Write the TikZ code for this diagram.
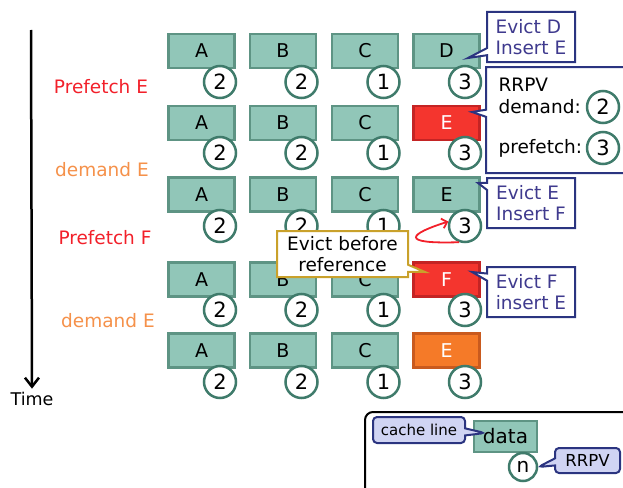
\documentclass[tikz,border=0pt]{standalone}
\usepackage{fontspec}
\setmainfont{DejaVu Sans}
\usetikzlibrary{shapes.callouts,arrows.meta}
\definecolor{tealfill}{HTML}{91C6B8}
\definecolor{tealline}{HTML}{5E9484}
\definecolor{circline}{HTML}{3F7B6B}
\definecolor{redfill}{HTML}{F4352E}
\definecolor{redline}{HTML}{C42424}
\definecolor{orgfill}{HTML}{F57A28}
\definecolor{orgline}{HTML}{C95A1E}
\definecolor{pfred}{HTML}{F2202A}
\definecolor{dmorg}{HTML}{F5914A}
\definecolor{calblue}{HTML}{2B3480}
\definecolor{caltext}{HTML}{3F3A8E}
\definecolor{gold}{HTML}{C9A12B}
\definecolor{lav}{HTML}{D0D4F3}
\begin{document}
\begin{tikzpicture}[x=1pt,y=-1pt,
  cline/.style={rectangle,draw=tealline,fill=tealfill,line width=2.5pt,minimum width=66pt,minimum height=34pt,inner sep=0pt,font=\fontsize{19}{19}\selectfont,text=black},
  redline/.style={cline,draw=redline,fill=redfill,text=white},
  orgline/.style={cline,draw=orgline,fill=orgfill,text=white},
  rr/.style={circle,draw=circline,fill=white,line width=2.5pt,minimum size=32pt,inner sep=0pt,font=\fontsize{21}{21}\selectfont},
  evlabel/.style={font=\fontsize{18.5}{18.5}\selectfont},
  blcall/.style={rectangle callout,draw=calblue,fill=white,line width=2pt,inner sep=0pt,minimum width=88pt,minimum height=50pt,align=left,text=caltext,font=\fontsize{18.5}{21}\selectfont},
  lavcall/.style={rectangle callout,draw=calblue,fill=lav,line width=2pt,rounded corners=4pt,inner sep=0pt,font=\fontsize{15}{15}\selectfont},
]
\useasboundingbox (0,0) rectangle (623,487);

% time axis
\coordinate (tstart) at (31,30);
\node[font=\fontsize{17.5}{17.5}\selectfont] (time) at (32,399) {Time};
\draw[line width=2.5pt,-{Straight Barb[length=9pt,width=14pt]}] (tstart) -- (time.north);

% event labels
\node[evlabel,text=pfred] (l1) at (101,87) {Prefetch E};
\node[evlabel,text=dmorg] (l2) at (102,170) {demand E};
\node[evlabel,text=pfred] (l3) at (105,238) {Prefetch F};
\node[evlabel,text=dmorg] (l4) at (108,321) {demand E};

% rows of cache lines
\foreach \r/\y in {1/51,2/123,3/194.5,4/279.5,5/350.5}{
  \node[cline] (b\r a) at (201.5,\y) {A};
  \node[cline] (b\r b) at (283,\y) {B};
  \node[cline] (b\r c) at (365,\y) {C};
}
\node[cline] (b1d) at (446.5,51) {D};
\node[redline] (b2d) at (446.5,123) {E};
\node[cline] (b3d) at (446.5,194.5) {E};
\node[redline] (b4d) at (446.5,279.5) {F};
\node[orgline] (b5d) at (446.5,350.5) {E};

% RRPV circles
\foreach \r/\y in {1/82,2/153,3/226,4/310,5/382}{
  \node[rr] (c\r a) at (220,\y) {2};
  \node[rr] (c\r b) at (301.5,\y) {2};
  \node[rr] (c\r c) at (383.5,\y) {1};
  \node[rr] (c\r d) at (465,\y) {3};
}

% red loop on row 3
\draw[pfred,line width=1.8pt,-{Straight Barb[length=5pt,width=10pt]}] (c3d.250) .. controls +(-62,2) and +(-38,12) .. (c3d.165);

% callouts
\node[blcall,callout absolute pointer={(468,58)}] (cd) at (531,37) {Evict D\\Insert E};
\node[blcall,minimum width=150pt,minimum height=106pt,callout absolute pointer={(472,112)}] (crr) at (561,120) {};
\node[anchor=west,font=\fontsize{18.5}{18.5}\selectfont] (trr) at (495,85) {RRPV};
\node[anchor=west,font=\fontsize{18.5}{18.5}\selectfont] (tdm) at (495,107) {demand:};
\node[anchor=west,font=\fontsize{18.5}{18.5}\selectfont] (tpf) at (495,148) {prefetch:};
\node[rr] (kdm) at (603,107) {2};
\node[rr] (kpf) at (603,148) {3};
\node[blcall,callout absolute pointer={(478,183)}] (ce) at (531,203) {Evict E\\Insert F};
\node[blcall,callout absolute pointer={(472,272)}] (cf) at (531,292) {Evict F\\insert E};
\node[blcall,draw=gold,text=black,align=center,minimum width=131pt,minimum height=46pt,callout absolute pointer={(425,272)}] (cb) at (342.5,254) {Evict before\\reference};

% legend
\node[draw,line width=2pt,rounded corners=8pt,minimum width=290pt,minimum height=90pt] (legend) at (510,457) {};
\node[cline,minimum width=63pt,minimum height=31pt,font=\fontsize{20}{20}\selectfont] (ldata) at (505.5,436.5) {data};
\node[rr,minimum size=28pt,font=\fontsize{20}{20}\selectfont] (ln) at (523,467) {n};
\node[lavcall,minimum width=92pt,minimum height=26pt,callout absolute pointer={(485,433)}] (lcl) at (419,430) {cache line};
\node[lavcall,minimum width=65pt,minimum height=25pt,font=\fontsize{16.5}{16.5}\selectfont,callout absolute pointer={(ln.east)}] (lrr) at (587.5,460.5) {RRPV};
\end{tikzpicture}
\end{document}
